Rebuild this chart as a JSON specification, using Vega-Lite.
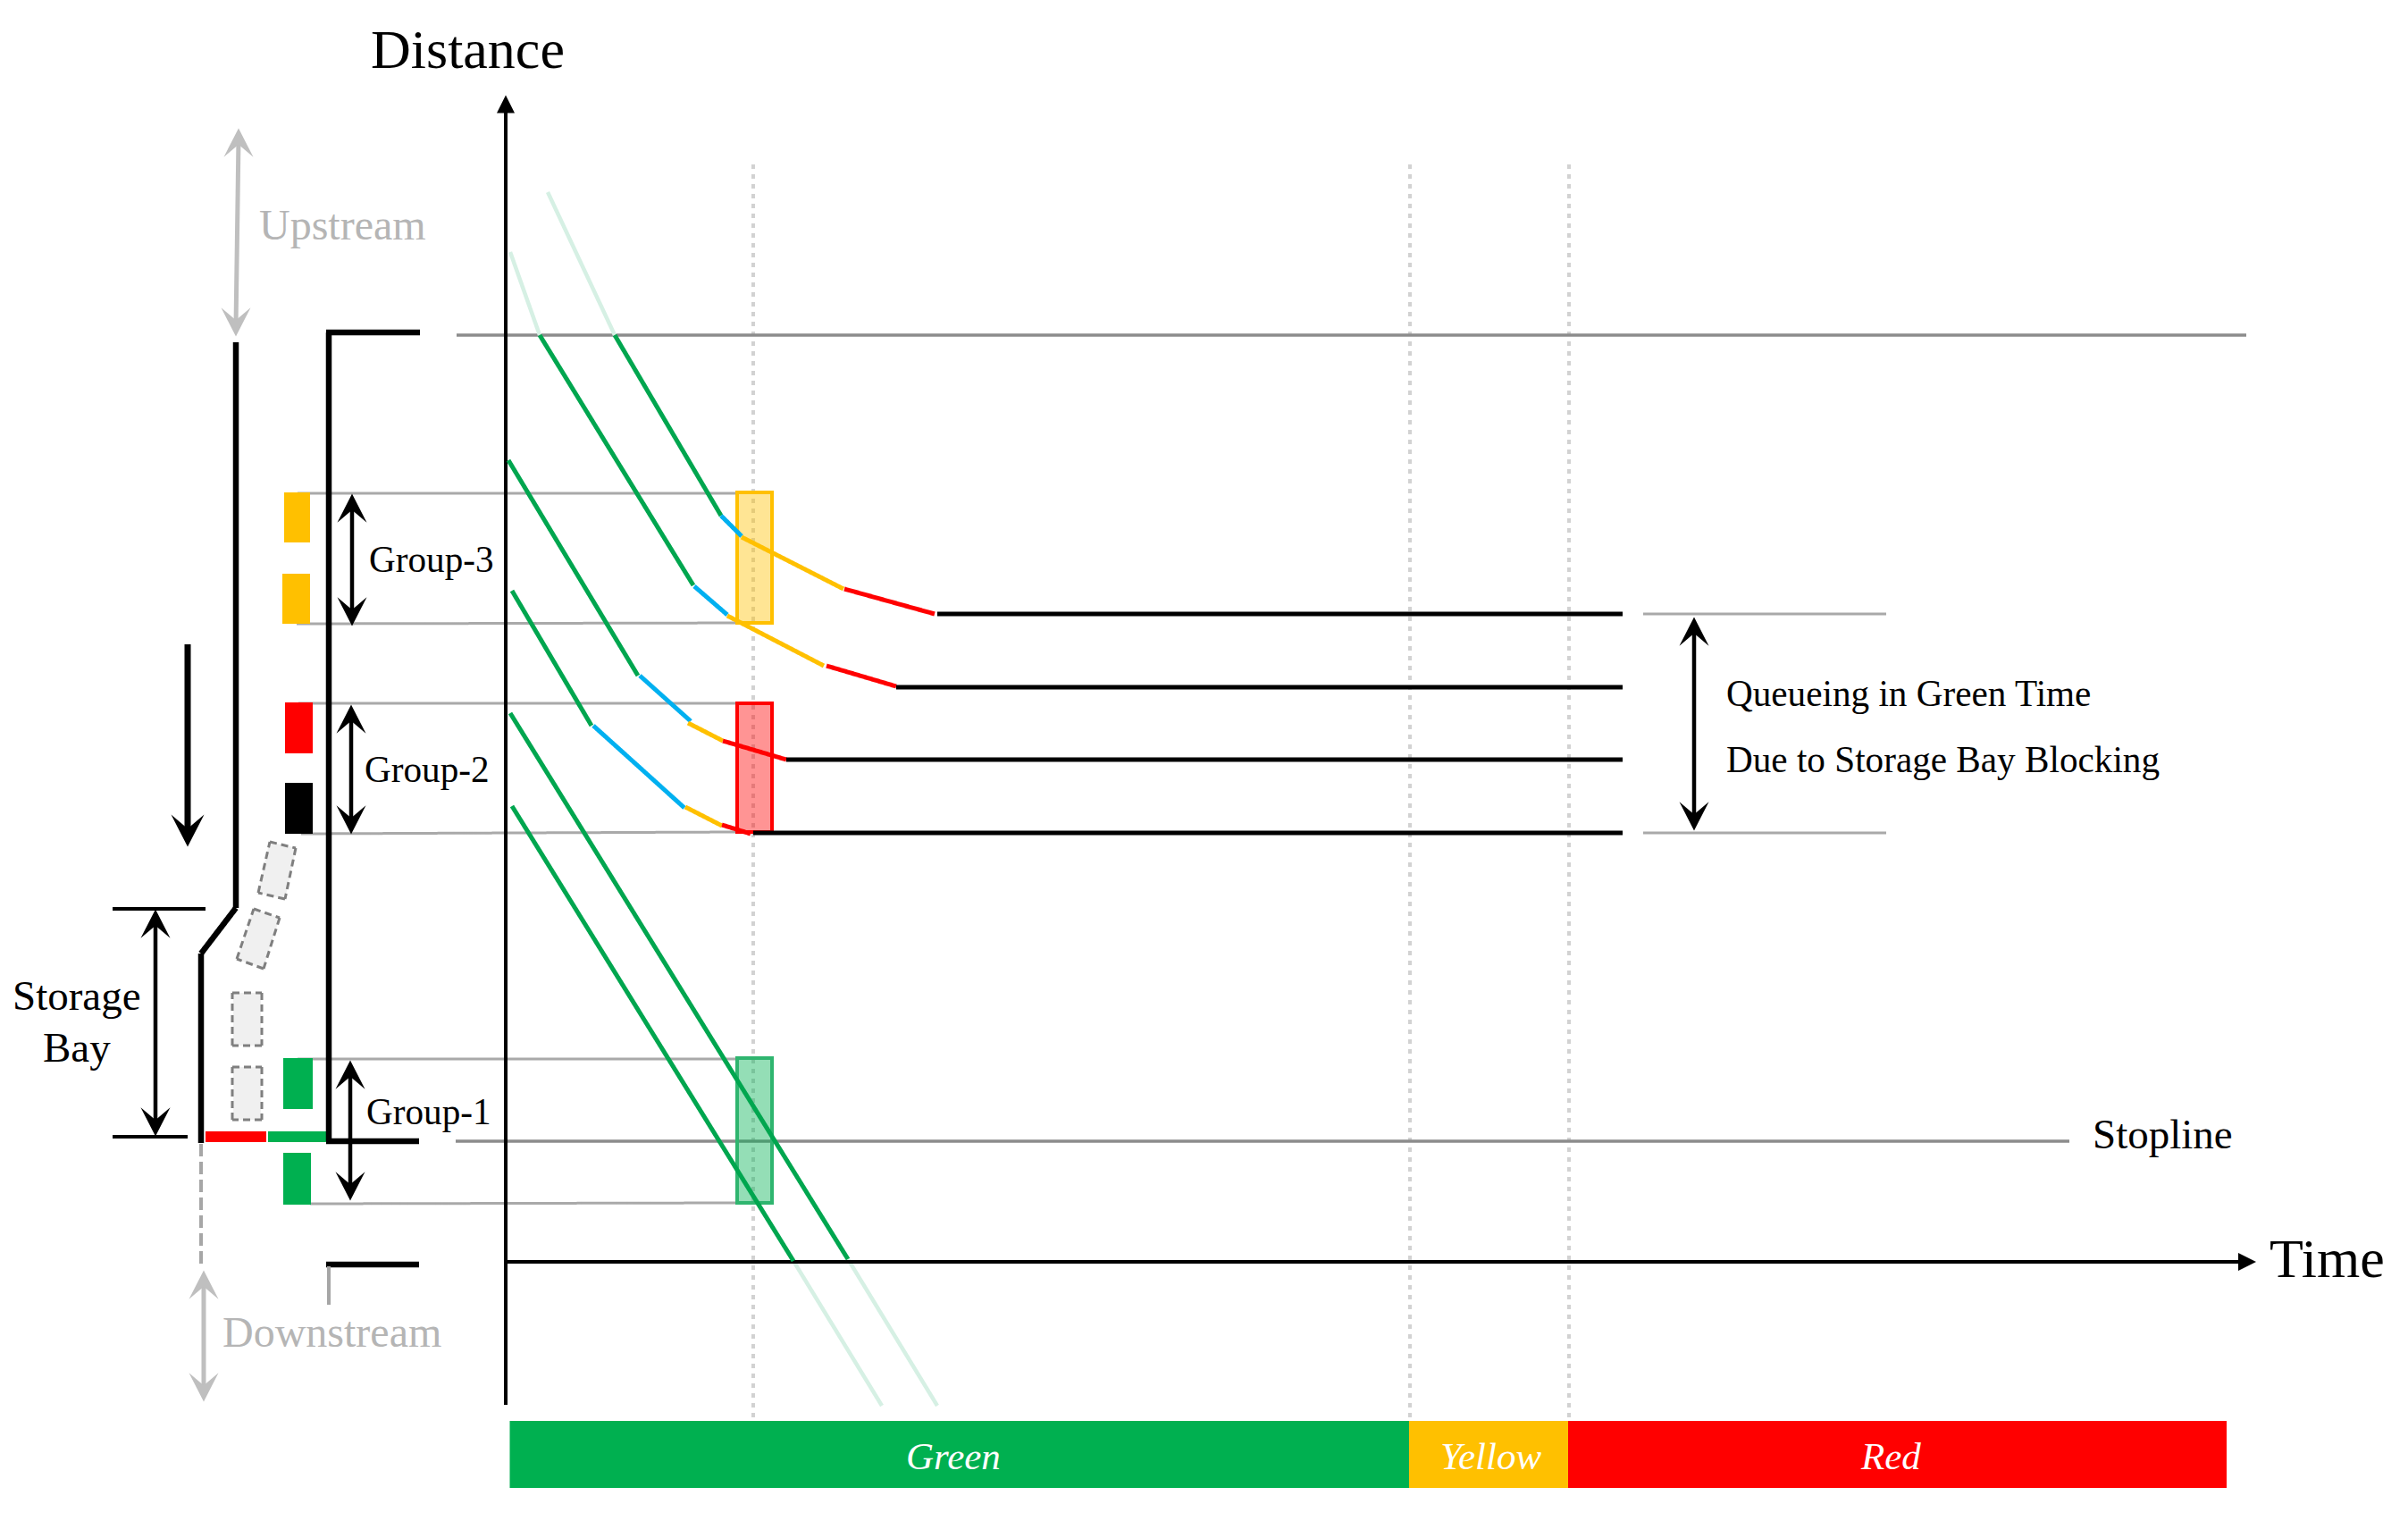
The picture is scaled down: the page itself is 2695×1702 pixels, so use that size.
{
  "$schema": "https://vega.github.io/schema/vega-lite/v6.json",
  "width": 2695,
  "height": 1702,
  "autosize": {"type": "fit", "contains": "padding"},
  "padding": 0,
  "background": "#ffffff",
  "config": {"view": {"stroke": null}, "legend": {"disable": true}},
  "resolve": {"scale": {"color": "independent", "size": "independent", "strokeDash": "independent", "angle": "independent", "fill": "independent", "stroke": "independent"}},
  "datasets": {
    "backdrop": [
      {"kind": "dotted", "x": 843, "y": 184, "x2": 843, "y2": 1587},
      {"kind": "dotted", "x": 1578, "y": 184, "x2": 1578, "y2": 1587},
      {"kind": "dotted", "x": 1756, "y": 184, "x2": 1756, "y2": 1587},
      {"kind": "guide", "x": 333, "y": 552, "x2": 825, "y2": 552},
      {"kind": "guide", "x": 332, "y": 698, "x2": 844, "y2": 697},
      {"kind": "guide", "x": 334, "y": 787, "x2": 844, "y2": 787},
      {"kind": "guide", "x": 337, "y": 933, "x2": 825, "y2": 931},
      {"kind": "guide", "x": 333, "y": 1185, "x2": 825, "y2": 1185},
      {"kind": "guide", "x": 347, "y": 1347, "x2": 825, "y2": 1346},
      {"kind": "guide", "x": 1839, "y": 687, "x2": 2111, "y2": 687},
      {"kind": "guide", "x": 1839, "y": 932, "x2": 2111, "y2": 932},
      {"kind": "stop", "x": 511, "y": 375, "x2": 2514, "y2": 375},
      {"kind": "stop", "x": 510, "y": 1277, "x2": 2316, "y2": 1277}
    ],
    "boxes": [
      {"group": "Group-3", "x": 825, "x2": 864, "y": 551, "y2": 697},
      {"group": "Group-2", "x": 825, "x2": 864, "y": 787, "y2": 931},
      {"group": "Group-1", "x": 825, "x2": 864, "y": 1184, "y2": 1346}
    ],
    "signals": [
      {"state": "yellow", "x": 318, "x2": 347, "y": 551, "y2": 607},
      {"state": "yellow", "x": 316, "x2": 347, "y": 642, "y2": 698},
      {"state": "red", "x": 319, "x2": 350, "y": 786, "y2": 843},
      {"state": "black", "x": 319, "x2": 350, "y": 876, "y2": 933},
      {"state": "green", "x": 317, "x2": 350, "y": 1184, "y2": 1241},
      {"state": "green", "x": 317, "x2": 348, "y": 1290, "y2": 1348},
      {"state": "red", "x": 230, "x2": 298, "y": 1266, "y2": 1278},
      {"state": "green", "x": 300, "x2": 365, "y": 1266, "y2": 1278},
      {"state": "green", "x": 570.5, "x2": 1577, "y": 1590, "y2": 1665},
      {"state": "yellow", "x": 1577, "x2": 1755, "y": 1590, "y2": 1665},
      {"state": "red", "x": 1755, "x2": 2492, "y": 1590, "y2": 1665}
    ],
    "lines": [
      {"kind": "pale", "x": 613, "y": 215, "x2": 688, "y2": 375},
      {"kind": "pale", "x": 571, "y": 282, "x2": 604, "y2": 375},
      {"kind": "pale", "x": 949, "y": 1409, "x2": 1049, "y2": 1573},
      {"kind": "pale", "x": 888, "y": 1411, "x2": 987, "y2": 1573},
      {"kind": "axis", "x": 566, "y": 120, "x2": 566, "y2": 1572},
      {"kind": "axis", "x": 566, "y": 1412, "x2": 2510, "y2": 1412},
      {"kind": "road", "x": 264, "y": 383, "x2": 264, "y2": 1016},
      {"kind": "road", "x": 264, "y": 1016, "x2": 225, "y2": 1067},
      {"kind": "road", "x": 225, "y": 1067, "x2": 225, "y2": 1279},
      {"kind": "road", "x": 368, "y": 372, "x2": 368, "y2": 1277},
      {"kind": "road", "x": 365, "y": 372, "x2": 470, "y2": 372},
      {"kind": "road", "x": 365, "y": 1277, "x2": 469, "y2": 1277},
      {"kind": "road", "x": 365, "y": 1415, "x2": 469, "y2": 1415},
      {"kind": "roadgrey", "x": 368, "y": 1417, "x2": 368, "y2": 1460},
      {"kind": "roaddash", "x": 225, "y": 1280, "x2": 225, "y2": 1415},
      {"kind": "carfill", "x": 316.5, "y": 945.5, "x2": 304, "y2": 1002.5},
      {"kind": "carfill", "x": 298.5, "y": 1022, "x2": 280, "y2": 1078.5},
      {"kind": "carfill", "x": 276.5, "y": 1111, "x2": 276.5, "y2": 1170},
      {"kind": "carfill", "x": 276.5, "y": 1194, "x2": 276.5, "y2": 1253},
      {"kind": "carline", "x": 302, "y": 942, "x2": 331, "y2": 949},
      {"kind": "carline", "x": 331, "y": 949, "x2": 319, "y2": 1006},
      {"kind": "carline", "x": 319, "y": 1006, "x2": 289, "y2": 999},
      {"kind": "carline", "x": 289, "y": 999, "x2": 302, "y2": 942},
      {"kind": "carline", "x": 284, "y": 1017, "x2": 313, "y2": 1027},
      {"kind": "carline", "x": 313, "y": 1027, "x2": 295, "y2": 1084},
      {"kind": "carline", "x": 295, "y": 1084, "x2": 265, "y2": 1073},
      {"kind": "carline", "x": 265, "y": 1073, "x2": 284, "y2": 1017},
      {"kind": "carline", "x": 260, "y": 1111, "x2": 293, "y2": 1111},
      {"kind": "carline", "x": 293, "y": 1111, "x2": 293, "y2": 1170},
      {"kind": "carline", "x": 293, "y": 1170, "x2": 260, "y2": 1170},
      {"kind": "carline", "x": 260, "y": 1170, "x2": 260, "y2": 1111},
      {"kind": "carline", "x": 260, "y": 1194, "x2": 293, "y2": 1194},
      {"kind": "carline", "x": 293, "y": 1194, "x2": 293, "y2": 1253},
      {"kind": "carline", "x": 293, "y": 1253, "x2": 260, "y2": 1253},
      {"kind": "carline", "x": 260, "y": 1253, "x2": 260, "y2": 1194},
      {"kind": "bay", "x": 126, "y": 1017, "x2": 230, "y2": 1017},
      {"kind": "bay", "x": 126, "y": 1272, "x2": 210, "y2": 1272},
      {"kind": "shaft", "x": 174, "y": 1030, "x2": 174, "y2": 1260},
      {"kind": "shaftbold", "x": 210, "y": 721, "x2": 210, "y2": 930},
      {"kind": "shaft", "x": 394, "y": 565, "x2": 394, "y2": 688},
      {"kind": "shaft", "x": 393, "y": 800, "x2": 393, "y2": 922},
      {"kind": "shaft", "x": 392, "y": 1198, "x2": 392, "y2": 1332},
      {"kind": "shaft", "x": 1896, "y": 703, "x2": 1896, "y2": 917},
      {"kind": "shaftgrey", "x": 267, "y": 155, "x2": 264, "y2": 365},
      {"kind": "shaftgrey", "x": 228, "y": 1433, "x2": 228, "y2": 1557},
      {"kind": "green", "x": 688, "y": 375, "x2": 807, "y2": 577},
      {"kind": "blue", "x": 807, "y": 577, "x2": 830, "y2": 600},
      {"kind": "amber", "x": 830, "y": 601, "x2": 944, "y2": 659},
      {"kind": "red", "x": 945, "y": 659, "x2": 1046, "y2": 687},
      {"kind": "queue", "x": 1049, "y": 687, "x2": 1816, "y2": 687},
      {"kind": "green", "x": 604, "y": 375, "x2": 776, "y2": 655},
      {"kind": "blue", "x": 777, "y": 656, "x2": 814, "y2": 688},
      {"kind": "amber", "x": 814, "y": 689, "x2": 922, "y2": 745},
      {"kind": "red", "x": 925, "y": 745, "x2": 1003, "y2": 768},
      {"kind": "queue", "x": 1003, "y": 769, "x2": 1816, "y2": 769},
      {"kind": "green", "x": 569, "y": 515, "x2": 714, "y2": 756},
      {"kind": "blue", "x": 716, "y": 756, "x2": 773, "y2": 807},
      {"kind": "amber", "x": 770, "y": 809, "x2": 809, "y2": 829},
      {"kind": "red", "x": 809, "y": 829, "x2": 880, "y2": 850},
      {"kind": "queue", "x": 880, "y": 850, "x2": 1816, "y2": 850},
      {"kind": "green", "x": 573, "y": 661, "x2": 662, "y2": 812},
      {"kind": "blue", "x": 664, "y": 812, "x2": 766, "y2": 904},
      {"kind": "amber", "x": 767, "y": 903, "x2": 808, "y2": 924},
      {"kind": "red", "x": 808, "y": 923, "x2": 840, "y2": 933},
      {"kind": "queue", "x": 843, "y": 932, "x2": 1816, "y2": 932},
      {"kind": "green", "x": 571, "y": 798, "x2": 949, "y2": 1409},
      {"kind": "green", "x": 573, "y": 902, "x2": 888, "y2": 1411}
    ],
    "heads": [
      {"tone": "black", "dir": "up", "x": 174, "y": 1034},
      {"tone": "black", "dir": "down", "x": 174, "y": 1255},
      {"tone": "bold", "dir": "down", "x": 210, "y": 929},
      {"tone": "black", "dir": "up", "x": 394, "y": 569},
      {"tone": "black", "dir": "down", "x": 394, "y": 684},
      {"tone": "black", "dir": "up", "x": 393, "y": 805},
      {"tone": "black", "dir": "down", "x": 393, "y": 917},
      {"tone": "black", "dir": "up", "x": 392, "y": 1203},
      {"tone": "black", "dir": "down", "x": 392, "y": 1327},
      {"tone": "black", "dir": "up", "x": 1896, "y": 707},
      {"tone": "black", "dir": "down", "x": 1896, "y": 913},
      {"tone": "grey", "dir": "up", "x": 267, "y": 160},
      {"tone": "grey", "dir": "down", "x": 264, "y": 360},
      {"tone": "grey", "dir": "up", "x": 228, "y": 1438},
      {"tone": "grey", "dir": "down", "x": 228, "y": 1552}
    ],
    "axisHeads": [
      {"dir": "up", "x": 566, "y": 116.5},
      {"dir": "right", "x": 2515, "y": 1412}
    ],
    "labels": [
      {"role": "title", "text": "Distance", "x": 415, "y": 76},
      {"role": "title", "text": "Time", "x": 2540, "y": 1429},
      {"role": "faint", "text": "Upstream", "x": 290, "y": 268},
      {"role": "faint", "text": "Downstream", "x": 249, "y": 1507},
      {"role": "note", "text": "Storage", "x": 14, "y": 1130},
      {"role": "note", "text": "Bay", "x": 48, "y": 1188},
      {"role": "note", "text": "Stopline", "x": 2342, "y": 1285},
      {"role": "small", "text": "Group-3", "x": 413, "y": 640},
      {"role": "small", "text": "Group-2", "x": 408, "y": 875},
      {"role": "small", "text": "Group-1", "x": 410, "y": 1258},
      {"role": "small", "text": "Queueing in Green Time", "x": 1932, "y": 790},
      {"role": "small", "text": "Due to Storage Bay Blocking", "x": 1932, "y": 864}
    ],
    "phases": [
      {"text": "Green", "x": 1014, "y": 1644},
      {"text": "Yellow", "x": 1612, "y": 1644},
      {"text": "Red", "x": 2083, "y": 1644}
    ]
  },
  "encoding": {
    "x": {"field": "x", "type": "quantitative", "scale": {"domain": [0, 2695], "nice": false, "zero": false}, "axis": null},
    "y": {"field": "y", "type": "quantitative", "scale": {"domain": [1702, 0], "nice": false, "zero": false}, "axis": null}
  },
  "layer": [
    {
      "data": {"name": "backdrop"},
      "mark": {"type": "rule"},
      "encoding": {
        "x2": {"field": "x2"},
        "y2": {"field": "y2"},
        "color": {"field": "kind", "type": "nominal", "scale": {"domain": ["dotted", "guide", "stop"], "range": ["#d2d2d2", "#a9a9a9", "#8c8c8c"]}},
        "size": {"field": "kind", "type": "ordinal", "scale": {"type": "ordinal", "domain": ["dotted", "guide", "stop"], "range": [4, 3, 3.5]}},
        "strokeDash": {"field": "kind", "type": "nominal", "scale": {"domain": ["dotted", "guide", "stop"], "range": [[5, 6], [1, 0], [1, 0]]}}
      }
    },
    {
      "data": {"name": "boxes"},
      "mark": {"type": "rect", "strokeWidth": 4, "fillOpacity": 0.42},
      "encoding": {
        "x2": {"field": "x2"},
        "y2": {"field": "y2"},
        "fill": {"field": "group", "type": "nominal", "scale": {"domain": ["Group-3", "Group-2", "Group-1"], "range": ["#ffc000", "#ff0000", "#00b050"]}},
        "stroke": {"field": "group", "type": "nominal", "scale": {"domain": ["Group-3", "Group-2", "Group-1"], "range": ["#ffc000", "#ff0000", "#2fb56f"]}}
      }
    },
    {
      "data": {"name": "signals"},
      "mark": {"type": "rect"},
      "encoding": {
        "x2": {"field": "x2"},
        "y2": {"field": "y2"},
        "color": {"field": "state", "type": "nominal", "scale": {"domain": ["green", "yellow", "red", "black"], "range": ["#00b050", "#ffc000", "#ff0000", "#000000"]}}
      }
    },
    {
      "data": {"name": "lines"},
      "mark": {"type": "rule"},
      "encoding": {
        "x2": {"field": "x2"},
        "y2": {"field": "y2"},
        "color": {"field": "kind", "type": "nominal", "scale": {
          "domain": ["pale", "axis", "road", "roadgrey", "roaddash", "carfill", "carline", "bay", "shaft", "shaftbold", "shaftgrey", "green", "blue", "amber", "red", "queue"],
          "range": ["#d6f0e4", "#000000", "#000000", "#a6a6a6", "#a6a6a6", "#f0f0f0", "#7f7f7f", "#000000", "#000000", "#000000", "#bfbfbf", "#00a64f", "#00b0f0", "#ffc000", "#ff0000", "#000000"]}},
        "size": {"field": "kind", "type": "ordinal", "scale": {"type": "ordinal",
          "domain": ["pale", "axis", "road", "roadgrey", "roaddash", "carfill", "carline", "bay", "shaft", "shaftbold", "shaftgrey", "green", "blue", "amber", "red", "queue"],
          "range": [4.5, 4, 6.5, 4, 4, 31, 3, 4, 4.5, 7, 5, 5, 5, 5, 5, 5]}},
        "strokeDash": {"field": "kind", "type": "nominal", "scale": {
          "domain": ["pale", "axis", "road", "roadgrey", "roaddash", "carfill", "carline", "bay", "shaft", "shaftbold", "shaftgrey", "green", "blue", "amber", "red", "queue"],
          "range": [[1, 0], [1, 0], [1, 0], [1, 0], [14, 6], [1, 0], [8, 5], [1, 0], [1, 0], [1, 0], [1, 0], [1, 0], [1, 0], [1, 0], [1, 0], [1, 0]]}}
      }
    },
    {
      "data": {"name": "heads"},
      "mark": {"type": "point", "filled": true, "opacity": 1, "shape": "M0,-1 L1,0.95 L0,0.1 L-1,0.95 Z"},
      "encoding": {
        "color": {"field": "tone", "type": "nominal", "scale": {"domain": ["black", "bold", "grey"], "range": ["#000000", "#000000", "#bfbfbf"]}},
        "size": {"field": "tone", "type": "ordinal", "scale": {"type": "ordinal", "domain": ["black", "bold", "grey"], "range": [1089, 1369, 1089]}},
        "angle": {"field": "dir", "type": "nominal", "scale": {"type": "ordinal", "domain": ["up", "right", "down"], "range": [0, 90, 180]}}
      }
    },
    {
      "data": {"name": "axisHeads"},
      "mark": {"type": "point", "filled": true, "opacity": 1, "size": 400, "color": "#000000", "shape": "M0,-1 L1,1 L-1,1 Z"},
      "encoding": {
        "angle": {"field": "dir", "type": "nominal", "scale": {"type": "ordinal", "domain": ["up", "right", "down"], "range": [0, 90, 180]}}
      }
    },
    {
      "data": {"name": "labels"},
      "mark": {"type": "text", "font": "Liberation Serif", "align": "left", "baseline": "alphabetic"},
      "encoding": {
        "text": {"field": "text"},
        "color": {"field": "role", "type": "nominal", "scale": {"domain": ["title", "faint", "note", "small"], "range": ["#000000", "#b5b5b5", "#000000", "#000000"]}},
        "size": {"field": "role", "type": "ordinal", "scale": {"type": "ordinal", "domain": ["title", "faint", "note", "small"], "range": [62, 48, 47, 41.2]}}
      }
    },
    {
      "data": {"name": "phases"},
      "mark": {"type": "text", "font": "Liberation Serif", "fontStyle": "italic", "align": "left", "baseline": "alphabetic", "fontSize": 43, "color": "#ffffff"},
      "encoding": {"text": {"field": "text"}}
    }
  ]
}
